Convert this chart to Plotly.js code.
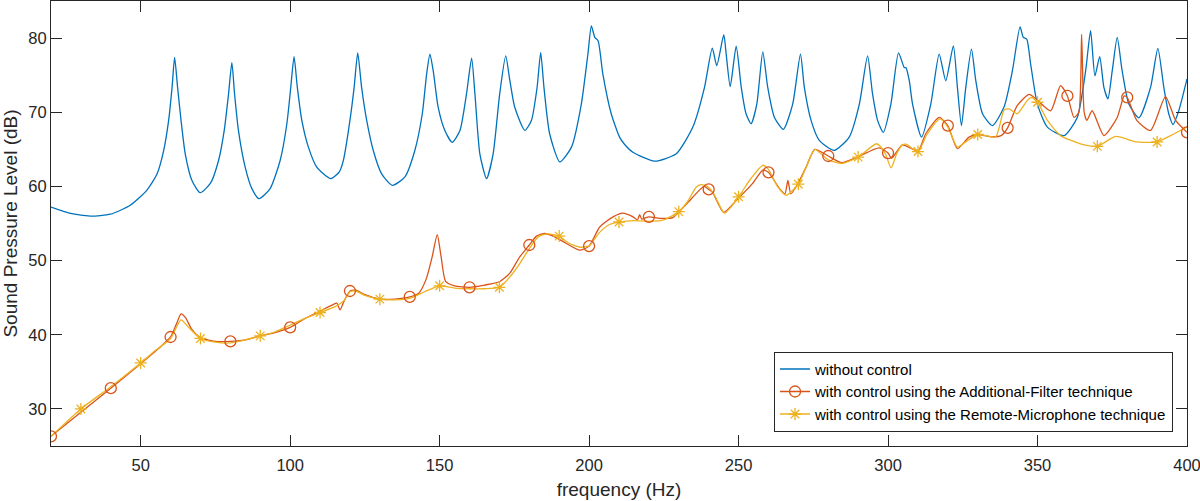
<!DOCTYPE html>
<html>
<head>
<meta charset="utf-8">
<script src="https://cdn.plot.ly/plotly-3.0.1.min.js"></script>
<style>
  html, body { margin: 0; padding: 0; background: #fff; }
  #chart { width: 1200px; height: 501px; }
</style>
</head>
<body>
<div id="chart"></div>
<script>
// without control (blue)
const offFreq = [20, 26.5, 33.2, 39.9, 46.5, 52.1, 55.5, 57.7, 59.35, 60.5, 61.35, 62.35, 63.5, 64.9, 67.15, 69.9,
  73.3, 76.05, 77.95, 79.4, 80.5, 81.4, 82.7, 84.95, 87.2, 89.6, 93.3, 96.65, 98.9, 100.2, 101.3, 102.4, 103.9,
  106.1, 108.9, 113.6, 116.5, 117.8, 120, 121.4, 122.6, 123.9, 125.6, 127.8, 130.6, 134.2, 138.4, 141.7, 144.2,
  145.65, 146.75, 147.85, 149.5, 151.75, 154.2, 156.8, 159, 160.7, 161.8, 163.45, 165.7, 167.9, 170.1, 172.1,
  173.5, 175.1, 178.5, 180.7, 182.6, 183.8, 184.9, 186.8, 190.2, 194.1, 197.4, 199.6, 200.75, 201.9, 203,
  204.6, 207.4, 210.2, 211.9, 214.65, 221.9, 229.15, 234.7, 238.6, 241.2, 242.7, 245.05, 245.85, 247.2, 249.2,
  250.9, 252.5, 254.2, 256.1, 258.1, 259.75, 262, 265, 268.1, 270.7, 272, 274.25, 277, 282, 287, 290.4, 293.15,
  294.8, 296.5, 298.4, 300.95, 303.5, 305.4, 306, 307.1, 308.2, 311.2, 314.3, 317.1, 319.3, 321.85, 323.2,
  324.55, 326, 327.9, 329.35, 331.6, 334.9, 338.8, 341.6, 344.15, 345.25, 346.4, 347.7, 349.95, 353.3, 358.85,
  363.3, 366.1, 367.75, 369.2, 370.8, 372.2, 373.55, 375, 376.65, 378.3, 380.55, 383.9, 387.8, 390.25, 392.25,
  393.9, 395.35, 397.25, 400];
const offLevel = [57.2, 56.35, 56.0, 56.25, 57.45, 59.5, 61.7, 64.85, 68.9, 73.35, 77.4, 73.35, 68.9, 64.4, 60.8, 59.15,
  60.4, 63.5, 67.55, 72.5, 76.7, 72.5, 67.55, 62.6, 59.7, 58.35, 59.7, 63.5, 68.45, 73.35, 77.5, 73.35, 68.9,
  65.3, 62.6, 61.05, 62.0, 63.5, 68.9, 73.35, 78.0, 73.35, 68.9, 64.85, 61.7, 60.15, 61.3, 64.85, 69.8,
  75.15, 77.85, 75.6, 70.7, 67.55, 65.95, 67.55, 72.5, 77.3, 72.5, 64.4, 61.05, 64.4, 72.5, 77.6,
  74.25, 70.7, 67.55, 68.9, 73.35, 78.05, 73.35, 67.1, 63.3, 65.3, 71.1, 77.85, 81.65, 80.1, 79.65,
  75.15, 69.8, 66.65, 65.65, 64.6, 63.4, 64.4, 68.0, 73.35, 78.65, 76.3, 80.45, 77.85, 73.45, 78.9,
  73.35, 69.8, 68.45, 71.1, 78.15, 73.35, 69.3, 67.7, 71.1, 77.85, 73.35, 68.9, 66.2, 64.85, 66.65, 71.1, 77.6,
  72.5, 68.9, 67.3, 71.1, 78.0, 76.05, 76.0, 74.25, 71.1, 66.65, 71.1, 77.85, 74.25, 78.95, 73.35,
  68.2, 73.35, 78.5, 74.25, 69.8, 68.2, 70.7, 75.6, 81.5, 80.1, 79.85, 76.5, 71.1, 68.0, 66.85,
  69.3, 75.6, 81.0, 74.9, 77.5, 73.35, 71.8, 75.6, 80.1, 75.6, 71.1, 69.25, 73.35, 78.6, 73.35,
  69.8, 68.35, 70.2, 74.5];

// with control, Additional-Filter technique (red)
const afFreq = [20, 30, 40, 50, 55, 58, 60, 62, 63.5, 65, 67, 70, 75, 80, 85, 90, 95, 100, 105, 110, 114, 115.6,
  116.7, 118, 120, 122, 125, 130, 135, 140, 143, 145.5, 147.5, 149.2, 150.5, 152, 155, 160, 165, 170, 173.5,
  176.8, 180, 182.4, 185.2, 188, 192.4, 196.9, 200, 203.5, 208, 211.3, 214.7, 216.2, 216.9, 217.6, 220, 223.6,
  228, 232.5, 236.9, 238.5, 240, 241.3, 245, 249.2, 254.7, 258.1, 260, 263.7, 265.5, 266.5, 267.5, 270, 272.6,
  275.5, 280, 284.5, 290, 297, 300, 301.2, 304.8, 310, 312.6, 317.1, 320, 323.2, 327.1, 330, 334.3, 337.8, 340,
  343.2, 347.2, 350, 354.4, 357.7, 360, 362.2, 363.8, 364.75, 365.6, 366.5, 368.3, 372.2, 376.65, 379, 380,
  383.2, 387.8, 392.8, 396.2, 400];
const afLevel = [26.3, 29.55, 32.8, 36.1, 37.8, 38.9, 39.7, 41.5, 42.8, 42.3, 40.8, 39.6, 39.1, 39.1, 39.3, 39.85,
  40.3, 41.0, 42.2, 43.2, 44.0, 44.25, 43.35, 44.5, 45.9, 46.0, 45.4, 44.8, 44.8, 45.1, 45.6, 47.5, 50.5, 53.5,
  50.5, 47.2, 46.6, 46.4, 46.7, 47.15, 48.3, 50.5, 52.1, 53.3, 53.65, 53.3, 52.3, 51.4, 51.95, 54.5, 55.9, 56.4,
  55.9, 55.5, 56.2, 55.6, 55.9, 55.7, 55.8, 57.6, 59.5, 60.0, 59.6, 59.2, 56.5, 58.1, 60.4, 62.2, 61.9, 59.7,
  59.0, 60.8, 59.0, 60.5, 62.6, 65.0, 64.1, 63.2, 64.0, 65.2, 64.5, 63.8, 65.6, 64.8, 67.1, 69.3, 68.2, 65.1,
  66.65, 67.0, 66.7, 66.85, 67.9, 70.9, 72.4, 71.6, 70.2, 73.6, 72.2, 69.3, 70.0, 80.5, 70.0, 68.9, 70.2, 66.85,
  69.3, 72.2, 72.0, 68.9, 67.55, 72.1, 68.9, 67.3];

// with control, Remote-Microphone technique (yellow)
const rmFreq = [20, 30, 40, 50, 55, 60, 63.5, 66, 70, 75, 80, 85, 90, 95, 100, 105, 110, 115, 118, 120, 122, 125,
  130, 135, 140, 145, 150, 155, 160, 165, 170, 173.5, 176.8, 180, 183, 186, 190, 193, 197, 200, 203.5, 207, 210,
  215, 220, 225, 230, 233, 235.8, 237.5, 240, 242, 245.3, 250, 254, 258.1, 260, 263, 265.9, 270, 272.6, 275.5,
  280, 284.5, 290, 296.2, 299, 301, 303, 304.8, 306, 310, 313, 317.4, 320, 323.2, 326, 330, 336, 338.8, 340.5,
  343.2, 346.6, 348, 350, 353.3, 357.7, 364.4, 370, 376.1, 383.2, 390, 394.5, 400];
const rmLevel = [26.3, 30.0, 33.0, 36.2, 37.9, 39.5, 42.0, 41.0, 39.5, 39.0, 38.9, 39.3, 39.85, 40.4, 41.3, 42.2,
  43.0, 43.8, 44.6, 45.8, 45.9, 45.3, 44.8, 44.7, 44.9, 45.8, 46.6, 46.3, 46.2, 46.2, 46.4, 47.8, 49.6, 51.6,
  53.2, 53.6, 53.3, 52.4, 51.8, 52.0, 53.8, 54.9, 55.2, 55.4, 55.3, 55.5, 56.6, 58.0, 59.9, 60.25, 59.9, 58.8,
  56.4, 58.6, 61.0, 62.85, 62.3, 60.0, 58.8, 60.3, 62.6, 65.0, 63.6, 63.1, 63.95, 65.75, 64.5, 62.5, 64.5, 65.6,
  65.7, 64.7, 67.0, 69.1, 68.0, 65.3, 66.0, 67.0, 66.7, 70.3, 70.45, 69.8, 71.6, 72.0, 71.35, 68.9, 66.85,
  65.75, 65.4, 66.75, 66.0, 66.0, 66.85, 68.0];

const xTicks = [50, 100, 150, 200, 250, 300, 350, 400];

const blue = '#0072BD';
const red = '#D95319';
const yellow = '#EDB120';
const fontFamily = 'Arial, Liberation Sans, sans-serif';

// markers every 20 Hz, line-broken so only the symbols show
function markerPoints(freq, level, keep) {
  const x = [], y = [];
  freq.forEach((f, i) => {
    if (keep(f)) { x.push(f, null); y.push(level[i], null) }
  });
  return { x, y };
}
const afMarks = markerPoints(afFreq, afLevel, f => f % 20 === 0);
const rmMarks = markerPoints(rmFreq, rmLevel, f => f % 20 === 10);

const data = [
  {
    x: offFreq, y: offLevel, type: 'scatter', mode: 'lines',
    name: 'without control',
    line: { color: blue, width: 1.3, shape: 'spline', smoothing: 0.6 },
  },
  {
    x: afFreq, y: afLevel, type: 'scatter', mode: 'lines',
    showlegend: false, legendgroup: 'af', hoverinfo: 'skip',
    line: { color: red, width: 1.3, shape: 'spline', smoothing: 0.6 },
  },
  {
    x: rmFreq, y: rmLevel, type: 'scatter', mode: 'lines',
    showlegend: false, legendgroup: 'rm', hoverinfo: 'skip',
    line: { color: yellow, width: 1.3, shape: 'spline', smoothing: 0.6 },
  },
  {
    x: afMarks.x, y: afMarks.y, type: 'scatter', mode: 'lines+markers',
    name: 'with control using the Additional-Filter technique', legendgroup: 'af',
    connectgaps: false,
    line: { color: red, width: 1.3 },
    marker: { symbol: 'circle-open', size: 11, color: red, line: { width: 1.3 } },
  },
  {
    x: rmMarks.x, y: rmMarks.y, type: 'scatter', mode: 'lines+markers',
    name: 'with control using the Remote-Microphone technique', legendgroup: 'rm',
    connectgaps: false,
    line: { color: yellow, width: 1.3 },
    marker: { symbol: 'asterisk-open', size: 10, color: yellow, line: { width: 1.3, color: yellow } },
  },
];

const axisCommon = {
  showline: true,
  linecolor: '#262626',
  linewidth: 1,
  mirror: 'ticks',
  ticks: 'inside',
  ticklen: 11,
  tickcolor: '#262626',
  showgrid: false,
  zeroline: false,
  ticklabeloverflow: 'allow',
  tickfont: { family: fontFamily, size: 16.5, color: '#262626' },
};

const layout = {
  width: 1200,
  height: 501,
  paper_bgcolor: '#ffffff',
  plot_bgcolor: '#ffffff',
  margin: { l: 51, r: 13, t: 1, b: 55 },
  font: { family: fontFamily, color: '#262626' },
  showlegend: true,
  legend: {
    x: 0.9877, xanchor: 'right',
    y: 0.032, yanchor: 'bottom',
    bgcolor: '#ffffff',
    bordercolor: '#262626',
    borderwidth: 1,
    font: { size: 15, color: '#000000' },
    tracegroupgap: 0,
  },
  xaxis: Object.assign({}, axisCommon, {
    range: [20, 400],
    tickvals: xTicks,
    ticklabelstandoff: 4,
    title: { text: 'frequency (Hz)', font: { size: 19, color: '#262626' }, standoff: 9 },
  }),
  yaxis: Object.assign({}, axisCommon, {
    range: [25, 85],
    dtick: 10,
    title: { text: 'Sound Pressure Level (dB)', font: { size: 19, color: '#262626' }, standoff: 7 },
  }),
};

Plotly.newPlot('chart', data, layout, { displayModeBar: false, responsive: false });
</script>
</body>
</html>
